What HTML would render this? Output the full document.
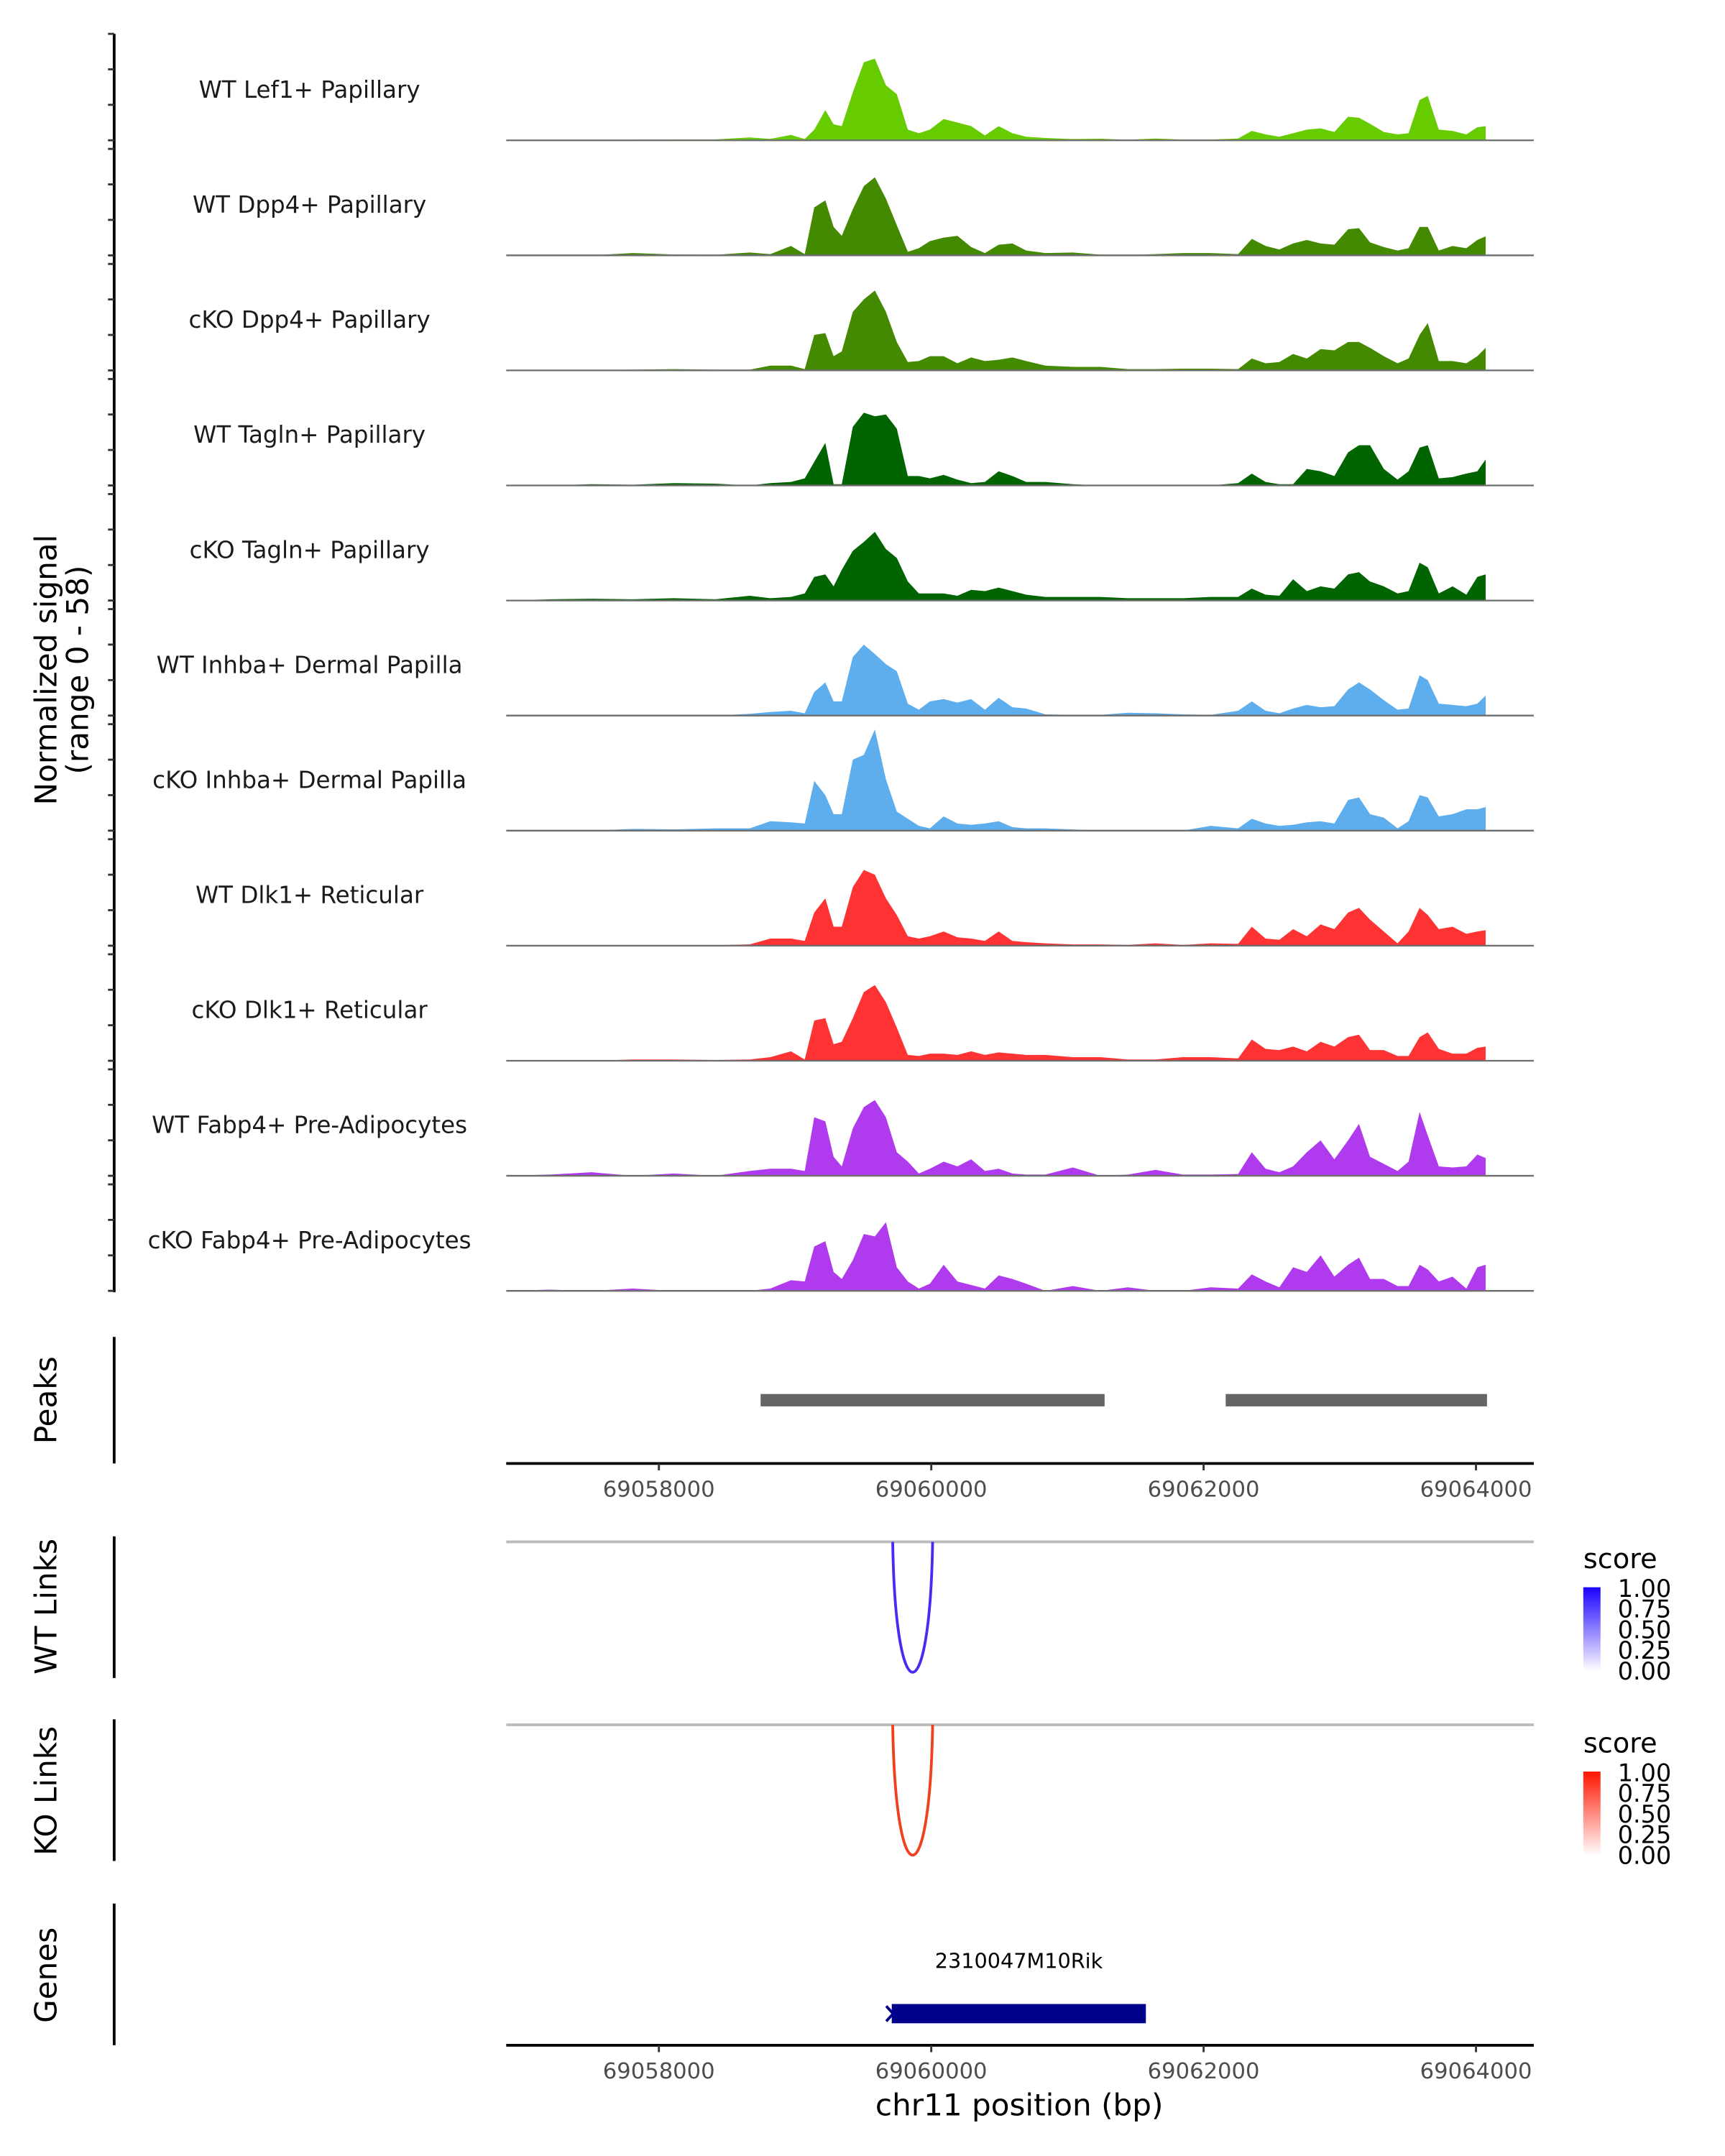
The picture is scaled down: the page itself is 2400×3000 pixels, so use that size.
<!DOCTYPE html>
<html><head><meta charset="utf-8"><style>
html,body{margin:0;padding:0;background:#fff;}
svg{display:block;font-family:"DejaVu Sans","Liberation Sans",sans-serif;}
</style></head><body>
<svg id="fig" width="2400" height="3000" viewBox="0 0 1254 1567.5" preserveAspectRatio="none" xmlns="http://www.w3.org/2000/svg">
<defs>
<linearGradient id="gBlue" x1="0" y1="1" x2="0" y2="0"><stop offset="0" stop-color="#ffffff"/><stop offset="1" stop-color="#1a00ff"/></linearGradient>
<linearGradient id="gRed" x1="0" y1="1" x2="0" y2="0"><stop offset="0" stop-color="#ffffff"/><stop offset="1" stop-color="#ff1500"/></linearGradient>
</defs>
<g id="tracks"></g>
<g id="yaxis"></g>
<text transform="translate(41,487) rotate(-90)" text-anchor="middle" font-size="22" fill="#000">Normalized signal</text>
<text transform="translate(64,487) rotate(-90)" text-anchor="middle" font-size="22" fill="#000">(range 0 - 58)</text>

<line x1="83" y1="972" x2="83" y2="1064" stroke="#000" stroke-width="2"/>
<text transform="translate(41,1018) rotate(-90)" text-anchor="middle" font-size="22">Peaks</text>
<g id="peaks"></g>
<g id="axis1"></g>

<line x1="83" y1="1117" x2="83" y2="1220" stroke="#000" stroke-width="2"/>
<text transform="translate(41,1168) rotate(-90)" text-anchor="middle" font-size="22">WT Links</text>
<line x1="368" y1="1121" x2="1115" y2="1121" stroke="#bbbbbb" stroke-width="2"/>
<g id="wtlinks"></g>

<line x1="83" y1="1250" x2="83" y2="1353" stroke="#000" stroke-width="2"/>
<text transform="translate(41,1302) rotate(-90)" text-anchor="middle" font-size="22">KO Links</text>
<line x1="368" y1="1254" x2="1115" y2="1254" stroke="#bbbbbb" stroke-width="2"/>
<g id="kolinks"></g>

<g>
<text x="1151" y="1140" font-size="20">score</text>
<rect x="1151" y="1154" width="12.5" height="61" fill="url(#gBlue)"/>
<g font-size="17.5" fill="#000">
<text x="1176" y="1161">1.00</text><text x="1176" y="1176">0.75</text><text x="1176" y="1191">0.50</text><text x="1176" y="1206">0.25</text><text x="1176" y="1221">0.00</text></g>
</g>
<g>
<text x="1151" y="1274" font-size="20">score</text>
<rect x="1151" y="1288" width="12.5" height="61" fill="url(#gRed)"/>
<g font-size="17.5" fill="#000">
<text x="1176" y="1295">1.00</text><text x="1176" y="1310">0.75</text><text x="1176" y="1325">0.50</text><text x="1176" y="1340">0.25</text><text x="1176" y="1355">0.00</text></g>
</g>

<line x1="83" y1="1384" x2="83" y2="1487" stroke="#000" stroke-width="2"/>
<text transform="translate(41,1436) rotate(-90)" text-anchor="middle" font-size="22">Genes</text>
<g id="genes"></g>
<g id="axis2"></g>
<text x="741" y="1538" text-anchor="middle" font-size="22">chr11 position (bp)</text>
</svg>
<script>
const positions = [69056879,69057202,69057505,69057808,69058111,69058414,69058667,69058818,69058970,69059071,69059141,69059222,69059283,69059343,69059424,69059505,69059586,69059667,69059747,69059828,69059909,69059990,69060091,69060192,69060293,69060394,69060495,69060596,69060697,69060838,69061040,69061242,69061444,69061646,69061848,69062051,69062253,69062354,69062455,69062556,69062657,69062758,69062859,69062960,69063061,69063141,69063222,69063323,69063424,69063505,69063586,69063646,69063727,69063828,69063929,69064010,69064071];
const trackNames = ["WT Lef1+ Papillary","WT Dpp4+ Papillary","cKO Dpp4+ Papillary","WT Tagln+ Papillary","cKO Tagln+ Papillary","WT Inhba+ Dermal Papilla","cKO Inhba+ Dermal Papilla","WT Dlk1+ Reticular","cKO Dlk1+ Reticular","WT Fabp4+ Pre-Adipocytes","cKO Fabp4+ Pre-Adipocytes"];
const trackColors = ["#66cc00","#448a00","#448a00","#006400","#006400","#5eaeed","#5eaeed","#ff3333","#ff3333","#b03aee","#b03aee"];
const wtLef1 = [0,0,0,0.3,0.5,0.5,1.6,0.8,3,0.7,6,17,9,8,27,44,46,31,26,6,4,6,12,10,8,2.7,8,4,2,1.3,0.7,0.9,0.3,1,0.4,0.4,1,5.3,3.3,2,4,6,6.7,4.7,13.3,12.7,9.3,4.7,3.3,4,22.7,25,6,5.3,3.3,7.3,8];
const wtDpp4 = [0,0,0,1.3,0.5,0.3,1.6,0.7,5.3,0.7,27,31,16,11,26,39,44,32,17,2,4,8,10,11,4.7,1.3,6,6.7,2.7,1.3,1.6,0.4,0.2,0.7,1.3,1.3,0.7,9.3,5.3,3.3,6.7,8.7,6.7,6,14.7,15.3,7.3,4.7,2.7,4,16,16,2.7,5.3,4,8.7,10.7];
const ckoDpp4 = [0,0.3,0.2,0.4,0.7,0.4,0.4,2.7,2.7,0.7,20,21,8,10.7,33,40,45,33,16,4.7,5.3,8,8,4,7.3,5.3,6,7.3,5.3,2.7,2,2,0.7,0.7,1,1,0.7,6.7,4,4.7,9.3,6.7,12,11.3,16,16,12.7,8,4,6.7,20,26.7,5.3,5.3,4,8,12.7];
const wtTagln = [0,0,0.7,0.4,1.3,1,0,1.3,2,4,13.3,24,0.7,0.7,33,41,39,40,32,5.3,5.3,4,6,3.3,1.3,2,8,5.3,2,2,0.7,0,0,0,0,0,1.3,6.7,2,0.7,0.7,9.3,8,5.3,18.7,22.7,22.7,9.3,3.3,8,21.3,22.7,4,4.7,6.7,8,14.7];
const ckoTagln = [0,0.7,1,0.7,1.3,0.7,2.7,1.3,2,4,13.3,14.7,8,17.3,28,33,38.7,29,24,10.7,4,4,4,2.7,6,5.3,7.3,5.3,3.3,2,2,2,1.3,1.3,1.3,2,2,6.7,3.3,2.7,12,5.3,8,6.7,14.7,16,10.7,8,4,5.3,21.3,18.7,4,8,3.3,13.3,14.7];
const wtInhba = [0,0,0,0.3,0,0,1,2,2.7,1.3,13.3,18.7,8,8,33,40,34.7,29,25,6.7,3.3,8,9.3,7.3,9.3,3.3,10,4.7,4,0.7,0.4,0.4,1.6,1.3,0.7,0.4,2.7,8,2.7,1.3,4,6,4.7,5.3,14.7,18.7,14.7,8.7,3.3,4,22.7,20,6.7,6,5.3,6.7,11.3];
const ckoInhba = [0,0,0,1,0.7,1.3,1.3,5.3,4.7,4,28,20,9.3,9.3,40,42.7,57,29,10.7,6.7,2.7,1.3,8,4,3.3,4,5.3,2,1.3,1.3,0.7,0,0,0,0,2.7,1.3,6.7,4,2.7,3.3,4.7,5.3,4,17.3,18.7,9.3,7.3,1.3,5.3,20,18.7,8,9.3,12,12,13.3];
const wtDlk1 = [0,0,0,0,0,0.3,0.7,4,4,2.7,18.7,26.7,10.7,10.7,33,42.7,40,26.7,17.3,5.3,4,5.3,8,4.7,4,2.7,8,2.7,2,1.3,0.7,0.7,0.4,1.3,0.4,1.3,1,10.7,4,3.3,9.3,5.3,12,9.3,18.7,21.3,14.7,8,1.3,8,21.3,17.3,9.3,10.7,6.7,8,8.7];
const ckoDlk1 = [0,0,0,0.7,0.7,0.4,0.7,2,5.3,0.7,22.7,24,9.3,10.7,24,38.7,42.7,33,18.7,3.3,2.7,4,4,3.3,5.3,3.3,4.7,4,3.3,3.3,2,2,0.7,0.7,2,2,1.3,12,6.7,6,8,5.3,10.7,8,13.3,14.7,6,6,2.7,2.7,13.3,16,6.7,4,4,7.3,8];
const wtFabp4 = [0,0.7,2,0,1.3,0,2.7,4,4,2.7,33,30.7,10.7,5.3,26.7,38.7,42.7,33,13.3,8,1.3,4,8,5.3,9.3,2.7,4,1.3,0.7,0.7,4.7,0,0.7,3.3,0.7,0.7,1,13.3,4,2,5.3,13.3,20,9.3,20,29.3,10.7,6.7,2.7,8,36,22.7,5.3,4.7,5.3,12,10];
const ckoFabp4 = [0,0.7,0,1.3,0,0,0,1.3,6,5.3,25,28,10.7,6.7,17.3,32,30.7,38.7,13.3,5.3,1.3,4,14.7,5.3,3.3,1.3,8.7,6.7,4,0,2.7,0,2,0,0,2,1.3,9.3,5.3,2,13.3,10.7,20,8,14.7,18.7,6.7,6.7,2.7,2.7,14.7,12,5.3,8,1.3,13.3,14.7];
const trackValues = [wtLef1,wtDpp4,ckoDpp4,wtTagln,ckoTagln,wtInhba,ckoInhba,wtDlk1,ckoDlk1,wtFabp4,ckoFabp4];
const yTicks = [0,20,40,60];
const xTicks = [69058000,69060000,69062000,69064000];
const xTickLabels = ["69058000","69060000","69062000","69064000"];
const peakStarts = [69058747,69062162];
const peakEnds = [69061273,69064081];
const wtLinkStart = [69059717], wtLinkEnd = [69060010], wtLinkScore = [0.9];
const koLinkStart = [69059717], koLinkEnd = [69060010], koLinkScore = [0.9];
const geneStart = 69059710, geneEnd = 69061576, geneName = "2310047M10Rik";

const NS = "http://www.w3.org/2000/svg";
const X0 = 368, X1 = 1115, BP0 = 69056879, PXPERBP = 0.099;
function xs(bp){ return X0 + (bp - BP0) * PXPERBP; }
const UNIT = 1.29, BASE0 = 102, STEP = 83.65;
function ys(i, v){ return BASE0 + i*STEP - v*UNIT; }
function mk(tag, attrs, parent){ const e = document.createElementNS(NS, tag); for (const k in attrs) e.setAttribute(k, attrs[k]); parent.appendChild(e); return e; }

const gT = document.getElementById('tracks');
const gY = document.getElementById('yaxis');
const axl = mk('line', {x1:83, y1:ys(0,60), x2:83, y2:ys(10,0)+1, stroke:'#000','stroke-width':2}, gY);


trackValues.forEach((vals, i) => {
  const base = ys(i,0);
  let d = 'M' + xs(positions[0]) + ',' + base;
  vals.forEach((v, j) => { d += ' L' + xs(positions[j]).toFixed(2) + ',' + ys(i, v).toFixed(2); });
  d += ' L' + xs(positions[positions.length-1]).toFixed(2) + ',' + base + ' Z';
  const p = mk('path', {d:d, fill:trackColors[i]}, gT);
  
  
  const bl = mk('line', {x1:X0, y1:base, x2:X1, y2:base, stroke:'#6e6e6e','stroke-width':1.2}, gT);
  
  
  const t = mk('text', {x:225, y:base-31, 'text-anchor':'middle','font-size':17, fill:'#1a1a1a'}, gT);
  t.textContent = trackNames[i];
  
  
  yTicks.forEach(tv => {
    const tk = mk('line', {x1:78.5, y1:ys(i,tv), x2:83, y2:ys(i,tv), stroke:'#333','stroke-width':1.5}, gY);
    
    
  });
});

const gP = document.getElementById('peaks');
peakStarts.forEach((s, k) => {
  const r = mk('rect', {x:xs(s), y:1013.5, width:xs(peakEnds[k])-xs(s), height:9, fill:'#666666'}, gP);
  
  
});

function drawAxis(id, y){
  const g = document.getElementById(id);
  const l = mk('line', {x1:X0, y1:y, x2:X1, y2:y, stroke:'#000','stroke-width':2}, g);
  
  
  xTicks.forEach((t, k) => {
    const tk = mk('line', {x1:xs(t), y1:y, x2:xs(t), y2:y+5, stroke:'#333','stroke-width':1.5}, g);
    
    
    const tl = mk('text', {x:xs(t), y:y+24, 'text-anchor':'middle','font-size':16, fill:'#4d4d4d'}, g);
    tl.textContent = xTickLabels[k];
    
    
  });
}
drawAxis('axis1', 1064);
drawAxis('axis2', 1487);

function drawLinks(id, starts, ends, scores, top, color){
  const g = document.getElementById(id);
  starts.forEach((s, k) => {
    const a = xs(s), b = xs(ends[k]), depth = 95 * scores[k] / 0.9;
    const d = 'M'+a+','+top+' C'+(a+2)+','+(top+depth*1.33)+' '+(b-2)+','+(top+depth*1.33)+' '+b+','+top;
    const p = mk('path', {d:d, fill:'none', stroke:color, 'stroke-width':2}, g);
    
    
  });
}
drawLinks('wtlinks', wtLinkStart, wtLinkEnd, wtLinkScore, 1121, '#4a2af2');
drawLinks('kolinks', koLinkStart, koLinkEnd, koLinkScore, 1254, '#f0401f');

const gG = document.getElementById('genes');
const gr = mk('rect', {x:xs(geneStart), y:1457, width:xs(geneEnd)-xs(geneStart), height:14, fill:'#00008b'}, gG);


const ga = mk('path', {d:'M'+(xs(geneStart)-4)+',1458.5 l5,5.5 l-5,5.5', fill:'none', stroke:'#00008b','stroke-width':2}, gG);


const gl = mk('text', {x:(xs(geneStart)+xs(geneEnd))/2, y:1431, 'text-anchor':'middle','font-size':15, fill:'#000'}, gG);
gl.textContent = geneName;


</script>
</body></html>
